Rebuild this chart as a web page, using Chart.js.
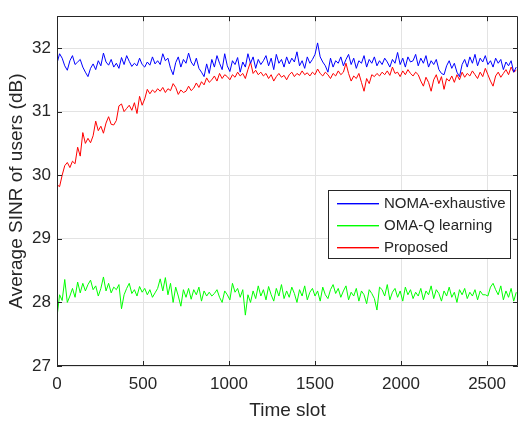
<!DOCTYPE html>
<html>
<head>
<meta charset="utf-8">
<script src="https://cdn.jsdelivr.net/npm/chart.js@4.4.1/dist/chart.umd.min.js"></script>
<style>
html,body{margin:0;padding:0;background:#fff;}
#wrap{width:520px;height:422px;position:relative;}
</style>
</head>
<body>
<div id="wrap"><canvas id="c" width="520" height="422"></canvas></div>
<script>
// ---- data ----
const seriesNames = ["NOMA-exhaustive", "OMA-Q learning", "Proposed"];
const slotStep = 15; // time-slot spacing between samples
const xTicks = [0, 500, 1000, 1500, 2000, 2500];
const yTicks = [27, 28, 29, 30, 31, 32];

const nomaExhaustive = [
31.76,31.91,31.84,31.72,31.65,31.80,31.88,31.74,31.78,31.82,
31.70,31.62,31.55,31.68,31.75,31.66,31.80,31.72,31.92,31.78,
31.73,31.82,31.70,31.76,31.68,31.85,31.74,31.88,31.79,31.71,
31.76,31.72,31.84,31.74,31.70,31.78,31.73,31.86,31.75,31.80,
31.74,31.91,31.80,31.84,31.68,31.58,31.77,31.86,31.70,31.82,
31.76,31.92,31.78,31.72,31.84,31.68,31.62,31.55,31.75,31.60,
31.82,31.70,31.88,31.76,31.66,31.91,31.72,31.63,31.80,31.74,
31.85,31.62,31.78,31.70,31.91,31.76,31.86,31.68,31.82,31.74,
31.80,31.88,31.72,31.84,31.66,31.90,31.76,31.82,31.70,31.86,
31.75,31.84,31.78,31.94,31.72,31.80,31.68,31.86,31.76,31.82,
31.90,32.08,31.86,31.78,31.72,31.62,31.84,31.70,31.80,31.76,
31.86,31.72,31.82,31.90,31.74,31.84,31.68,31.80,31.76,31.88,
31.70,31.82,31.76,31.86,31.72,31.80,31.74,31.84,31.78,31.70,
31.82,31.76,31.93,31.74,31.84,31.70,31.86,31.78,31.80,31.90,
31.72,31.84,31.76,31.88,31.70,31.80,31.74,31.82,31.66,31.60,
31.58,31.72,31.80,31.68,31.76,31.62,31.55,31.74,31.82,31.70,
31.86,31.76,31.90,31.72,31.84,31.78,31.88,31.74,31.80,31.70,
31.84,31.76,31.82,31.66,31.78,31.72,31.80,31.62,31.70
];

const omaQLearning = [
27.77,28.12,28.03,28.36,28.00,28.10,28.22,28.08,28.32,28.15,
28.30,28.18,28.28,28.35,28.20,28.26,28.10,28.22,28.40,28.18,
28.30,28.15,28.24,28.20,28.28,27.90,28.12,28.22,28.30,28.14,
28.20,28.10,28.25,28.16,28.22,28.12,28.20,28.08,28.15,28.22,
28.37,28.18,28.39,28.12,28.30,28.00,28.24,28.10,27.94,28.20,
28.08,28.22,28.05,28.20,28.12,28.24,28.02,28.18,28.10,28.16,
28.10,28.14,28.20,28.08,28.00,28.18,28.12,28.04,28.30,28.16,
28.22,28.08,28.20,27.80,28.12,28.00,28.18,28.06,28.26,28.10,
28.20,28.04,28.25,28.12,28.02,28.22,28.10,28.28,28.06,28.18,
28.08,28.24,28.14,28.00,28.20,28.10,28.26,28.04,28.16,28.22,
28.10,28.18,28.02,28.24,28.12,28.06,28.20,28.28,28.14,28.22,
28.08,28.18,28.26,28.04,28.16,28.10,28.22,28.02,28.18,28.12,
27.98,28.20,28.14,28.06,27.88,28.24,28.20,28.10,28.28,28.04,
28.16,28.22,28.08,28.18,28.02,28.24,28.12,28.20,28.06,28.16,
28.10,28.22,28.04,28.18,28.12,28.26,28.06,28.20,28.14,28.02,
28.18,28.10,28.24,28.08,28.16,28.00,28.20,28.12,28.22,28.06,
28.16,28.10,28.20,28.04,28.18,28.12,28.12,28.10,28.24,28.30,
28.20,28.12,28.26,28.04,28.18,28.08,28.22,28.02,28.16
];

const proposed = [
29.85,29.82,30.00,30.15,30.20,30.12,30.22,30.18,30.44,30.30,
30.67,30.50,30.58,30.51,30.62,30.85,30.70,30.77,30.66,30.82,
30.92,30.80,30.79,30.86,31.09,31.12,31.00,31.05,31.10,31.02,
31.14,30.97,31.24,31.10,31.20,31.35,31.28,31.34,31.30,31.36,
31.32,31.38,31.30,31.36,31.33,31.44,31.38,31.27,31.34,31.30,
31.32,31.40,31.33,31.37,31.45,31.38,31.47,31.42,31.53,31.46,
31.50,31.56,31.48,31.60,31.52,31.58,31.55,31.50,31.58,31.54,
31.62,31.56,31.60,31.52,31.66,31.78,31.60,31.65,31.58,31.62,
31.56,31.60,31.52,31.58,31.48,31.55,31.60,31.54,31.57,31.50,
31.58,31.62,31.55,31.60,31.57,31.64,31.58,31.61,31.56,31.62,
31.58,31.67,31.60,31.56,31.62,31.58,31.52,31.60,31.56,31.64,
31.58,31.62,31.76,31.60,31.48,31.56,31.52,31.60,31.46,31.32,
31.52,31.44,31.58,31.55,31.60,31.56,31.62,31.58,31.64,31.57,
31.70,31.60,31.62,31.55,31.64,31.58,31.66,31.60,31.56,31.62,
31.58,31.48,31.40,31.54,31.46,31.32,31.50,31.58,31.44,31.55,
31.35,31.52,31.48,31.56,31.46,31.58,31.50,31.62,31.54,31.60,
31.56,31.64,31.58,31.52,31.62,31.55,31.68,31.58,31.48,31.40,
31.56,31.62,31.54,31.60,31.66,31.58,31.70,31.62,31.65
];

const seriesValues = [nomaExhaustive, omaQLearning, proposed];
const seriesColors = ["#0000ff", "#00ff00", "#ff0000"];

const FONT = "'Liberation Sans', Arial, Helvetica, sans-serif";
const TXT = "#262626";
const FRAME = "#262626";

const toPoints = arr => arr.map((v, i) => ({x: i * slotStep, y: v}));

const framePlugin = {
  id: 'frame',
  afterDraw(chart) {
    const ctx = chart.ctx;
    const a = chart.chartArea;
    const xs = chart.scales.x, ys = chart.scales.y;
    ctx.save();
    ctx.strokeStyle = FRAME;
    ctx.lineWidth = 1;
    ctx.beginPath();
    ctx.rect(Math.round(a.left) + 0.5, Math.round(a.top) + 0.5,
             Math.round(a.right - a.left) - 1, Math.round(a.bottom - a.top) - 1);
    ctx.stroke();
    const tl = 5;
    ctx.beginPath();
    xTicks.forEach(t => {
      const px = Math.round(xs.getPixelForValue(t)) + 0.5;
      ctx.moveTo(px, a.bottom); ctx.lineTo(px, a.bottom - tl);
      ctx.moveTo(px, a.top); ctx.lineTo(px, a.top + tl);
    });
    yTicks.forEach(t => {
      const py = Math.round(ys.getPixelForValue(t)) + 0.5;
      ctx.moveTo(a.left, py); ctx.lineTo(a.left + tl, py);
      ctx.moveTo(a.right, py); ctx.lineTo(a.right - tl, py);
    });
    ctx.stroke();

    // legend box
    const bx = 328.5, by = 190.5, bw = 182, bh = 68;
    ctx.fillStyle = '#ffffff';
    ctx.fillRect(bx, by, bw, bh);
    ctx.strokeStyle = FRAME;
    ctx.lineWidth = 1;
    ctx.strokeRect(bx, by, bw, bh);
    const rows = [203, 225, 247];
    ctx.font = "15px " + FONT;
    ctx.textBaseline = 'middle';
    ctx.textAlign = 'left';
    seriesNames.forEach((name, i) => {
      ctx.fillStyle = seriesColors[i];
      ctx.fillRect(337, rows[i], 42, 1.4);
      ctx.fillStyle = TXT;
      ctx.fillText(name, 384, rows[i] + 1);
    });
    ctx.restore();
  }
};

new Chart(document.getElementById('c'), {
  type: 'line',
  data: {
    datasets: seriesNames.map((n, i) => ({
      label: n,
      data: toPoints(seriesValues[i]),
      borderColor: seriesColors[i],
      backgroundColor: seriesColors[i],
      borderWidth: 1,
      pointRadius: 0,
      tension: 0,
      fill: false
    }))
  },
  options: {
    responsive: false,
    animation: false,
    devicePixelRatio: 1,
    layout: {padding: {top: 5, right: 2, left: 0, bottom: 0}},
    plugins: {legend: {display: false}, tooltip: {enabled: false}},
    scales: {
      x: {
        type: 'linear',
        min: 0, max: 2680,
        afterBuildTicks: s => { s.ticks = xTicks.map(v => ({value: v})); },
        afterFit: s => { s.height = 56; },
        grid: {color: '#e3e3e3', drawTicks: false},
        border: {display: false},
        ticks: {color: TXT, font: {family: FONT, size: 17}, padding: 8, maxRotation: 0,
                callback: v => String(v)},
        title: {display: true, text: 'Time slot', color: TXT,
                font: {family: FONT, size: 19}, padding: {top: 0, bottom: 0}}
      },
      y: {
        min: 27, max: 32.5,
        afterBuildTicks: s => { s.ticks = yTicks.map(v => ({value: v})); },
        afterFit: s => { s.width = 57; },
        grid: {color: '#e3e3e3', drawTicks: false},
        border: {display: false},
        ticks: {color: TXT, font: {family: FONT, size: 17}, padding: 6,
                callback: v => String(v)},
        title: {display: true, text: 'Average SINR of users (dB)', color: TXT,
                font: {family: FONT, size: 19}, padding: {top: 5, bottom: 0}}
      }
    }
  },
  plugins: [framePlugin]
});
</script>
</body>
</html>
